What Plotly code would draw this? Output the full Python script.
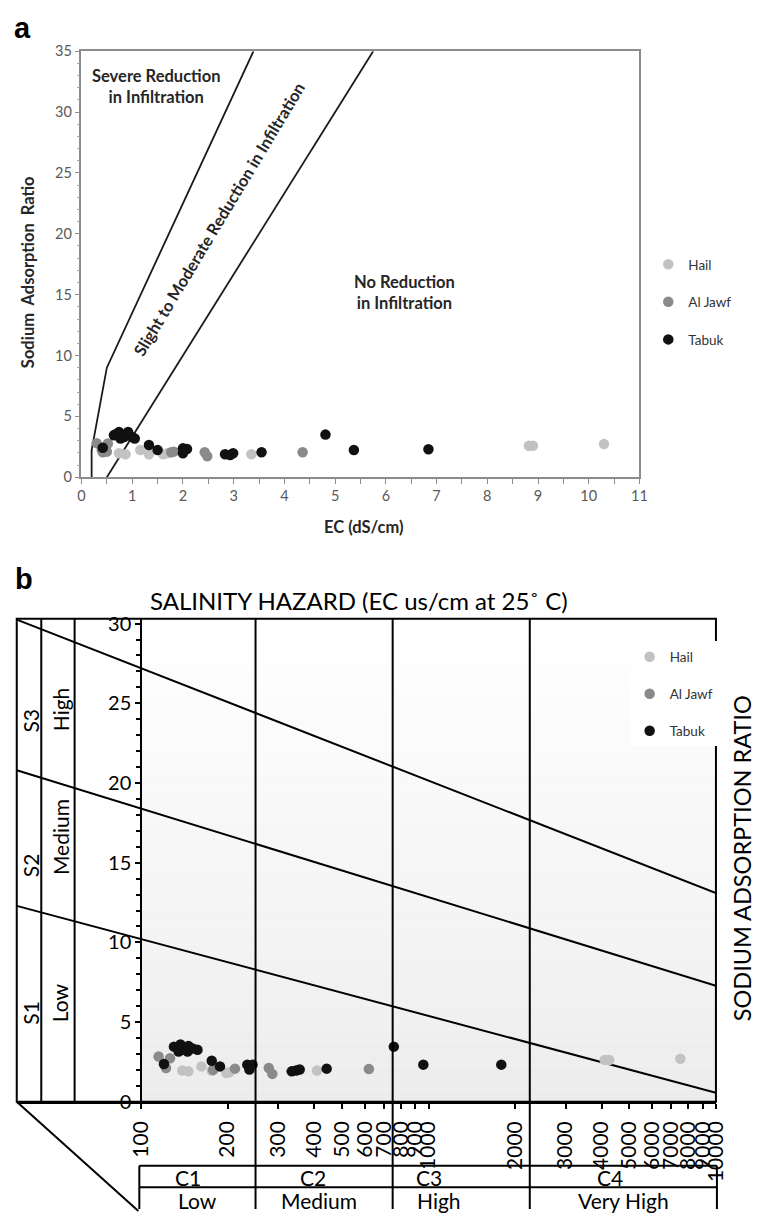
import math
import plotly.graph_objects as go

W, H = 775, 1220
def fx(p): return p / W
def fy(p): return 1 - p / H

# ---------------- Panel a data (EC in dS/cm, SAR) ----------------
hail_a_ec   = [0.74, 0.87, 1.16, 1.33, 1.61, 1.69, 3.35, 8.82, 8.90, 10.30]
hail_a_sar  = [1.97, 1.88, 2.24, 1.88, 1.88, 1.97, 1.88, 2.59, 2.59, 2.72]
jawf_a_ec   = [0.30, 0.52, 0.40, 0.50, 0.42, 1.77, 1.82, 2.43, 2.48, 4.36]
jawf_a_sar  = [2.80, 2.77, 2.24, 2.10, 2.05, 2.05, 2.10, 2.05, 1.72, 2.05]
tabuk_a_ec  = [0.42, 0.64, 0.66, 0.74, 0.77, 0.84, 0.90, 0.92, 1.00, 1.05, 1.33,
               1.50, 2.00, 2.08, 2.00, 2.83, 2.93, 2.99, 3.55, 4.81, 5.37, 6.84]
tabuk_a_sar = [2.42, 3.45, 3.50, 3.72, 3.18, 3.31, 3.58, 3.72, 3.31, 3.18, 2.64,
               2.24, 2.37, 2.32, 1.97, 1.88, 1.83, 1.97, 2.05, 3.50, 2.24, 2.29]

# infiltration boundaries (panel a)
severe_ec  = [0.2, 0.2, 0.5, 3.39]
severe_sar = [0, 2.2, 9.0, 35]
nored_ec   = [0.5, 5.75]
nored_sar  = [0, 35]

# ---------------- Panel b data (EC in uS/cm, SAR) ----------------
hail_b_ec   = [139, 146, 162, 176, 198, 203, 409, 4100, 4250, 7520]
hail_b_sar  = [1.96, 1.91, 2.22, 1.96, 1.81, 1.85, 1.96, 2.62, 2.62, 2.70]
jawf_b_ec   = [115, 126, 122, 178, 212, 278, 286, 620]
jawf_b_sar  = [2.84, 2.73, 2.12, 2.00, 2.08, 2.12, 1.75, 2.06]
tabuk_b_ec  = [130, 137, 140, 135, 146, 151, 157, 145, 120, 176, 188, 234, 238,
               244, 334, 346, 356, 442, 757, 959, 1791]
tabuk_b_sar = [3.46, 3.60, 3.27, 3.15, 3.50, 3.35, 3.27, 3.15, 2.37, 2.57, 2.22,
               2.33, 2.02, 2.33, 1.91, 1.96, 2.02, 2.08, 3.46, 2.33, 2.33]

# USSL diagram boundaries (panel b)
ussl_ec    = [36.9, 10000]
s1s2_sar   = [12.29, 0.57]
s2s3_sar   = [20.8, 7.28]
s3s4_sar   = [30.25, 13.1]
class_ec   = [250, 750, 2250]
xb_tickvals = [100, 200, 300, 400, 500, 600, 700, 800, 900, 1000,
               2000, 3000, 4000, 5000, 6000, 7000, 8000, 9000, 10000]
xb_ticktext = [str(v) for v in xb_tickvals]

c_hail, c_jawf, c_tabuk = "#c2c2c2", "#8a8a8a", "#111111"
FONT = "Lato, 'Open Sans', sans-serif"

fig = go.Figure()

# ---- panel a ----
fig.add_trace(go.Scatter(x=severe_ec, y=severe_sar, mode="lines", xaxis="x", yaxis="y",
                         line=dict(color="#1a1a1a", width=1.8), showlegend=False, hoverinfo="skip"))
fig.add_trace(go.Scatter(x=nored_ec, y=nored_sar, mode="lines", xaxis="x", yaxis="y",
                         line=dict(color="#1a1a1a", width=1.8), showlegend=False, hoverinfo="skip"))
for name, xs, ys, col in [("Hail", hail_a_ec, hail_a_sar, c_hail),
                          ("Al Jawf", jawf_a_ec, jawf_a_sar, c_jawf),
                          ("Tabuk", tabuk_a_ec, tabuk_a_sar, c_tabuk)]:
    fig.add_trace(go.Scatter(x=xs, y=ys, mode="markers", name=name, xaxis="x", yaxis="y",
                             marker=dict(color=col, size=10.5, line=dict(width=0)),
                             legend="legend", legendgroup="a" + name))

# ---- panel b ----
for ys in [s1s2_sar, s2s3_sar, s3s4_sar]:
    fig.add_trace(go.Scatter(x=ussl_ec, y=ys, mode="lines", xaxis="x2", yaxis="y2",
                             line=dict(color="black", width=2), showlegend=False, hoverinfo="skip"))
for name, xs, ys, col in [("Hail", hail_b_ec, hail_b_sar, c_hail),
                          ("Al Jawf", jawf_b_ec, jawf_b_sar, c_jawf),
                          ("Tabuk", tabuk_b_ec, tabuk_b_sar, c_tabuk)]:
    fig.add_trace(go.Scatter(x=xs, y=ys, mode="markers", name=name, xaxis="x2", yaxis="y2",
                             marker=dict(color=col, size=10.5, line=dict(width=0)),
                             legend="legend2", legendgroup="b" + name))

shapes = []
# gradient background of panel b plot area
nb = 40
ytop = 30.3
for i in range(nb):
    y0 = ytop * i / nb
    y1 = ytop * (i + 1) / nb
    g = int(round(236 + (255 - 236) * (i / (nb - 1)) ** 0.9))
    shapes.append(dict(type="rect", xref="x2", yref="y2", x0=100, x1=10000, y0=y0, y1=y1,
                       fillcolor=f"rgb({g},{g},{g})", line=dict(width=0), layer="below"))
# panel b frame
shapes.append(dict(type="rect", xref="x2 domain", yref="y2 domain", x0=0, x1=1, y0=0, y1=1,
                   line=dict(color="black", width=2)))
# salinity class boundaries (extend into the class table)
for v in class_ec:
    shapes.append(dict(type="line", xref="x2", yref="paper", x0=v, x1=v, y0=0, y1=fy(620),
                       line=dict(color="black", width=2)))
# left sodium-class columns
for p in [38, 72]:
    shapes.append(dict(type="line", xref="paper", yref="paper", x0=fx(p), x1=fx(p),
                       y0=fy(1111), y1=fy(620), line=dict(color="black", width=2)))
# diagonal to the table
shapes.append(dict(type="line", xref="paper", yref="paper", x0=fx(13), y0=fy(1111),
                   x1=fx(137), y1=fy(1222), line=dict(color="black", width=2)))
# class table
for yy in [1176, 1198]:
    shapes.append(dict(type="line", xref="paper", yref="paper", x0=fx(138), x1=fx(727),
                       y0=fy(yy), y1=fy(yy), line=dict(color="black", width=2)))
for xx in [138, 727]:
    shapes.append(dict(type="line", xref="paper", yref="paper", x0=fx(xx), x1=fx(xx),
                       y0=fy(1176), y1=0, line=dict(color="black", width=2)))

ann = []
def A(text, x, y, size, bold=False, angle=0, color="black", family=FONT, xanchor="center"):
    t = f"<b>{text}</b>" if bold else text
    ann.append(dict(text=t, x=fx(x), y=fy(y), xref="paper", yref="paper", showarrow=False,
                    textangle=angle, xanchor=xanchor, yanchor="middle",
                    font=dict(size=size, color=color, family=family)))

A("a", 19, 19, 29, bold=True, family="'Liberation Sans', Arial, sans-serif")
A("b", 20, 580, 29, bold=True, family="'Liberation Sans', Arial, sans-serif")
A("Severe Reduction<br>in Infiltration", 155, 79, 16.5, bold=True, color="#262626")
A("Slight to Moderate Reduction in Infiltration", 220, 214, 16.5, bold=True, angle=-59, color="#262626")
A("No Reduction<br>in Infiltration", 408, 288, 16.5, bold=True, color="#262626")
A("Sodium  Adsorption  Ratio", 24, 268, 16.5, bold=True, angle=-90, color="#262626")
A("EC (dS/cm)", 367, 527, 16.5, bold=True, color="#262626")

A("SALINITY HAZARD (EC us/cm at 25˚ C)", 362, 601, 24)
A("SODIUM ADSORPTION RATIO", 752, 863, 23.5, angle=-90)
A("S3", 27, 723, 21, angle=-90)
A("High", 57, 712, 21, angle=-90)
A("S2", 27, 870, 21, angle=-90)
A("Medium", 57, 842, 21, angle=-90)
A("S1", 27, 1020, 21, angle=-90)
A("Low", 57, 1010, 21, angle=-90)
A("C1", 188, 1188, 21)
A("Low", 197, 1211, 21)
A("C2", 315, 1188, 21)
A("Medium", 321, 1211, 21)
A("C3", 433, 1188, 21)
A("High", 444, 1211, 21)
A("C4", 618, 1188, 21)
A("Very High", 632, 1211, 21)

axis_a = dict(showgrid=False, zeroline=False, showline=True, linecolor="#8c8c8c", linewidth=1.5,
              mirror=True, ticks="outside", ticklen=5, tickcolor="#8c8c8c", tickwidth=1,
              tickfont=dict(size=14.5, color="#595959", family=FONT), fixedrange=True)

fig.update_layout(
    width=W, height=H, margin=dict(l=0, r=0, t=0, b=0),
    paper_bgcolor="white", plot_bgcolor="white",
    font=dict(family=FONT),
    xaxis=dict(axis_a, domain=[fx(79), fx(648)], range=[0, 11], anchor="y", dtick=1, tick0=0,
               minor=dict(dtick=0.5, ticks="outside", ticklen=5, tickcolor="#8c8c8c")),
    yaxis=dict(axis_a, domain=[fy(476), fy(43)], range=[0, 35], anchor="x", dtick=5, tick0=0,
               minor=dict(dtick=1, ticks="outside", ticklen=3, tickcolor="#a0a0a0")),
    xaxis2=dict(type="log", domain=[fx(13), fx(726)], range=[math.log10(36.9), 4], anchor="y2",
                tickmode="array", tickvals=xb_tickvals, ticktext=xb_ticktext, tickangle=-90,
                ticks="outside", ticklen=5, tickcolor="black", tickwidth=1.5,
                ticklabelstandoff=4,
                showline=True, linecolor="black", linewidth=2, showgrid=False, zeroline=False,
                tickfont=dict(size=21, color="black", family=FONT), fixedrange=True),
    yaxis2=dict(domain=[fy(1111), fy(620)], range=[0, 30.3], anchor="free", position=fx(140),
                dtick=5, tick0=0, ticks="outside", ticklen=5, tickcolor="black", tickwidth=1.5,
                minor=dict(dtick=1, ticks="outside", ticklen=4, tickcolor="black"),
                showline=True, linecolor="black", linewidth=2, showgrid=False, zeroline=False,
                tickfont=dict(size=20, color="black", family=FONT), fixedrange=True),
    legend=dict(x=fx(657), y=fy(244), xanchor="left", yanchor="top", bgcolor="rgba(255,255,255,0)",
                font=dict(size=13.5, color="#333333", family=FONT), tracegroupgap=17,
                traceorder="grouped", itemsizing="trace"),
    legend2=dict(x=fx(638), y=fy(643), xanchor="left", yanchor="top", bgcolor="white",
                 font=dict(size=13.5, color="#333333", family=FONT), tracegroupgap=16.5,
                 traceorder="grouped", itemsizing="trace"),
    shapes=shapes, annotations=ann, showlegend=True,
)

fig.write_html("out.html")
